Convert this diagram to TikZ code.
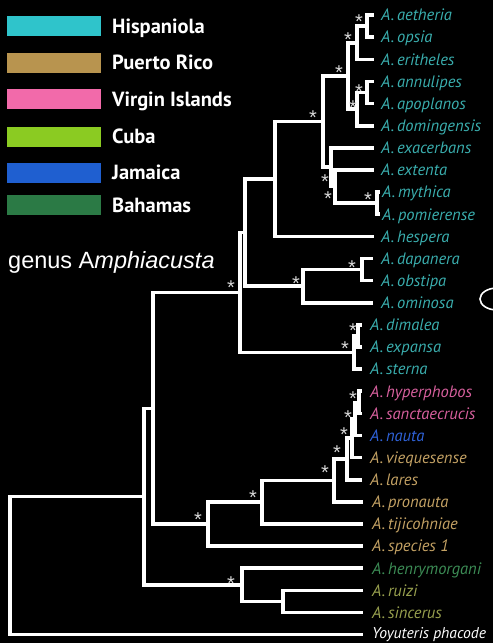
\documentclass[tikz,border=0pt]{standalone}
\usepackage{fontspec}
\setmainfont{PT Sans}
\newfontfamily\helv{Liberation Sans}
\definecolor{hispbox}{HTML}{2FC4CB}
\definecolor{prbox}{HTML}{B8944F}
\definecolor{vibox}{HTML}{F26AAA}
\definecolor{cubabox}{HTML}{8BCB22}
\definecolor{jambox}{HTML}{1F5FD0}
\definecolor{bahbox}{HTML}{2B7A45}
\definecolor{hisptxt}{HTML}{3AAEAE}
\definecolor{prtxt}{HTML}{C4A264}
\definecolor{vitxt}{HTML}{D8609E}
\definecolor{jamtxt}{HTML}{2F62D8}
\definecolor{bahtxt}{HTML}{3C8C55}
\definecolor{cubatxt}{HTML}{98A04E}
\definecolor{astgray}{HTML}{D9D9D9}
\begin{document}
\begin{tikzpicture}[x=1pt,y=-1pt,
  br/.style={draw=white,line width=3.6pt},
  leaf/.style={anchor=west,inner xsep=#1,inner ysep=0pt,text height=11.6pt,text depth=0pt,font=\fontsize{16.5}{16.5}\selectfont\itshape},
  leaf/.default=7pt,
  ast/.style={text=astgray,inner sep=0pt,yshift=-4.5pt,font=\helv\fontsize{20}{20}\selectfont},
  legbox/.style={minimum width=94pt,minimum height=20pt,inner sep=0pt,draw=none},
  legtext/.style={anchor=base west,inner sep=0pt,text=white,font=\fontsize{20.5}{20.5}\selectfont\bfseries}]
\fill[black] (0,0) rectangle (493,643);
\useasboundingbox (0,0) rectangle (493,643);
\clip (0,0) rectangle (493,643);

% legend
\node[legbox,fill=hispbox] (kH) at (54,26) {};
\node[legtext] (tH) at (112,33) {Hispaniola};
\node[legbox,fill=prbox] (kP) at (54,62.5) {};
\node[legtext] (tP) at (112,69.5) {Puerto Rico};
\node[legbox,fill=vibox] (kV) at (54,99) {};
\node[legtext] (tV) at (112,106) {Virgin Islands};
\node[legbox,fill=cubabox] (kC) at (54,136.5) {};
\node[legtext] (tC) at (112,143.5) {Cuba};
\node[legbox,fill=jambox] (kJ) at (54,172.5) {};
\node[legtext] (tJ) at (112,179.5) {Jamaica};
\node[legbox,fill=bahbox] (kB) at (54,205) {};
\node[legtext] (tB) at (112,212) {Bahamas};

\node[anchor=base west,inner sep=0pt,text=white,font=\helv\fontsize{23.5}{23.5}\selectfont] (genus) at (8,268) {genus A\textit{mphiacusta}};

% leaves
\node[leaf,text=hisptxt] (aetheria) at (374,15.0) {A.\,aetheria};
\node[leaf,text=hisptxt] (opsia) at (374,37.1) {A.\,opsia};
\node[leaf,text=hisptxt] (eritheles) at (374,59.3) {A.\,eritheles};
\node[leaf,text=hisptxt] (annulipes) at (374,81.4) {A.\,annulipes};
\node[leaf,text=hisptxt] (apoplanos) at (374,103.5) {A.\,apoplanos};
\node[leaf,text=hisptxt] (domingensis) at (374,125.7) {A.\,domingensis};
\node[leaf,text=hisptxt] (exacerbans) at (374,147.8) {A.\,exacerbans};
\node[leaf,text=hisptxt] (extenta) at (374,169.9) {A.\,extenta};
\node[leaf=2pt,text=hisptxt] (mythica) at (380,192.0) {A.\,mythica};
\node[leaf=2pt,text=hisptxt] (pomierense) at (380,214.2) {A.\,pomierense};
\node[leaf,text=hisptxt] (hespera) at (374,236.3) {A.\,hespera};
\node[leaf=8pt,text=hisptxt] (dapanera) at (373,258.4) {A.\,dapanera};
\node[leaf=8pt,text=hisptxt] (obstipa) at (373,280.6) {A.\,obstipa};
\node[leaf=8pt,text=hisptxt] (ominosa) at (373,302.7) {A.\,ominosa};
\node[leaf=8pt,text=hisptxt] (dimalea) at (362,324.8) {A.\,dimalea};
\node[leaf=8pt,text=hisptxt] (expansa) at (362,346.9) {A.\,expansa};
\node[leaf=8pt,text=hisptxt] (sterna) at (362,369.1) {A.\,sterna};
\node[leaf=8pt,text=vitxt] (hyperphobos) at (362,391.2) {A.\,hyperphobos};
\node[leaf=8pt,text=vitxt] (sanctaecrucis) at (362,413.3) {A.\,sanctaecrucis};
\node[leaf=8pt,text=jamtxt] (nauta) at (362,435.5) {A.\,nauta};
\node[leaf=8pt,text=prtxt] (viequesense) at (362,457.6) {A.\,viequesense};
\node[leaf=8pt,text=prtxt] (lares) at (362,479.7) {A.\,lares};
\node[leaf=9pt,text=prtxt] (pronauta) at (363,501.9) {A.\,pronauta};
\node[leaf=9pt,text=prtxt] (tijicohniae) at (363,524.0) {A.\,tijicohniae};
\node[leaf=9pt,text=prtxt] (species1) at (363,546.1) {A.\,species 1};
\node[leaf=9pt,text=bahtxt] (henrymorgani) at (363,568.2) {A.\,henrymorgani};
\node[leaf=9pt,text=cubatxt] (ruizi) at (363,590.4) {A.\,ruizi};
\node[leaf=9pt,text=cubatxt] (sincerus) at (363,612.5) {A.\,sincerus};
\node[leaf=9pt,text=white,text height=8.4pt,font=\fontsize{15.6}{15.6}\selectfont\itshape] (yoyuteris) at (363,634.6) {Yoyuteris phacode};

% internal nodes
\coordinate (E1) at (367,26.0);
\coordinate (E2) at (357,42.7);
\coordinate (E4) at (367,92.5);
\coordinate (E5) at (357,109.1);
\coordinate (E) at (348,75.9);
\coordinate (G0) at (377,203.1);
\coordinate (G) at (335,186.5);
\coordinate (F) at (331,167.2);
\coordinate (D) at (323,121.5);
\coordinate (C) at (275,178.9);
\coordinate (H1) at (362,269.5);
\coordinate (H) at (303,286.1);
\coordinate (B) at (245,232.5);
\coordinate (M1) at (358,335.9);
\coordinate (M) at (354,352.5);
\coordinate (A) at (240,292.5);
\coordinate (N1) at (359,402.3);
\coordinate (N2) at (355,418.9);
\coordinate (N3) at (352,438.2);
\coordinate (N4) at (347,459.0);
\coordinate (N5) at (334,480.4);
\coordinate (N6) at (262,502.2);
\coordinate (N7) at (208,524.2);
\coordinate (P) at (153,408.3);
\coordinate (Q1) at (283,601.5);
\coordinate (Q) at (242,584.8);
\coordinate (R) at (144,496.6);
\coordinate (Root) at (10,565.6);

% branches
\draw[br] (E1) |- (aetheria.west) (E1) |- (opsia.west);
\draw[br] (E2) |- (E1) (E2) |- (eritheles.west);
\draw[br] (E4) |- (annulipes.west) (E4) |- (apoplanos.west);
\draw[br] (E5) |- (E4) (E5) |- (domingensis.west);
\draw[br] (E) |- (E2) (E) |- (E5);
\draw[br] (G0) |- (mythica.west) (G0) |- (pomierense.west);
\draw[br] (G) |- (extenta.west) (G) |- (G0);
\draw[br] (F) |- (exacerbans.west) (F) |- (G);
\draw[br] (D) |- (E) (D) |- (F);
\draw[br] (C) |- (D) (C) |- (hespera.west);
\draw[br] (H1) |- (dapanera.west) (H1) |- (obstipa.west);
\draw[br] (H) |- (H1) (H) |- (ominosa.west);
\draw[br] (B) |- (C) (B) |- (H);
\draw[br] (M1) |- (dimalea.west) (M1) |- (expansa.west);
\draw[br] (M) |- (M1) (M) |- (sterna.west);
\draw[br] (A) |- (B) (A) |- (M);
\draw[br] (N1) |- (hyperphobos.west) (N1) |- (sanctaecrucis.west);
\draw[br] (N2) |- (N1) (N2) |- (nauta.west);
\draw[br] (N3) |- (N2) (N3) |- (viequesense.west);
\draw[br] (N4) |- (N3) (N4) |- (lares.west);
\draw[br] (N5) |- (N4) (N5) |- (pronauta.west);
\draw[br] (N6) |- (N5) (N6) |- (tijicohniae.west);
\draw[br] (N7) |- (N6) (N7) |- (species1.west);
\draw[br] (P) |- (A) (P) |- (N7);
\draw[br] (Q1) |- (ruizi.west) (Q1) |- (sincerus.west);
\draw[br] (Q) |- (henrymorgani.west) (Q) |- (Q1);
\draw[br] (R) |- (P) (R) |- (Q);
\draw[br] (Root) |- (R) (Root) |- (yoyuteris.west);

% support asterisks
\node[ast] (s1) at (359,17) {*};
\node[ast] (s2) at (348,35) {*};
\node[ast] (s3) at (339,68) {*};
\node[ast] (s4) at (359,87) {*};
\node[ast] (s5) at (353,103) {*};
\node[ast] (s6) at (313,113) {*};
\node[ast] (s7) at (325,177) {*};
\node[ast] (s8) at (328,194) {*};
\node[ast] (s9) at (368,195) {*};
\node[ast] (s10) at (352,263) {*};
\node[ast] (s11) at (296,279) {*};
\node[ast] (s12) at (231,283) {*};
\node[ast] (s13) at (353,326) {*};
\node[ast] (s14) at (345,344) {*};
\node[ast] (s15) at (353,394) {*};
\node[ast] (s16) at (348,413) {*};
\node[ast] (s17) at (344,430) {*};
\node[ast] (s18) at (337,448) {*};
\node[ast] (s19) at (325,468) {*};
\node[ast] (s20) at (253,493) {*};
\node[ast] (s21) at (198,515) {*};
\node[ast] (s22) at (231,579) {*};

% partial outline at right edge
\draw[white,line width=1.6pt] (497,299) ellipse [x radius=17, y radius=11];
\end{tikzpicture}
\end{document}
